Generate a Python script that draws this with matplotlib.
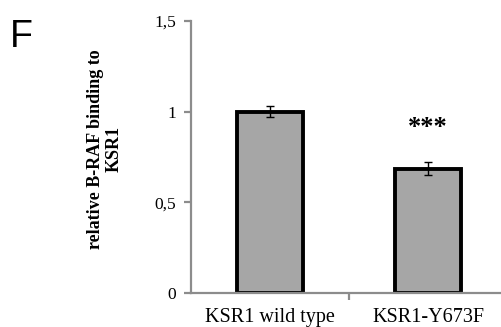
import numpy as np
import matplotlib
matplotlib.use("Agg")
from matplotlib import pyplot as plt

# data
groups = ['KSR1 wild type', 'KSR1-Y673F']
binding = [1.0, 0.685]
binding_err = [0.03, 0.035]
signif = ['', '***']
yticks = [0, 0.5, 1, 1.5]
ytick_labels = ['0', '0,5', '1', '1,5']

W, H = 501, 327
fig = plt.figure(figsize=(W/100, H/100), dpi=100)
# axis spans x 191..507 px, y 21..293 px
ax = fig.add_axes([191/W, (H-293)/H, 316/W, 272/H])

x = np.arange(len(groups))
ax.bar(x, binding, width=0.42, color='#a6a6a6', edgecolor='black', linewidth=2.8, zorder=2)
ax.errorbar(x, binding, yerr=binding_err, fmt='none', ecolor='black', elinewidth=1.0,
            capsize=3, capthick=1.0, zorder=3)
for xi, val, err, s in zip(x, binding, binding_err, signif):
    if s:
        ax.text(xi, 0.91, s, ha='center', va='center', fontsize=19, fontweight='bold',
                family='Liberation Serif')

ax.set_xlim(-0.5, 1.5)
ax.set_ylim(0, 1.5)
ax.set_yticks(yticks)
ax.set_yticklabels(ytick_labels, family='Liberation Serif', fontsize=12.5)
ax.set_xticks([0.5])
ax.set_xticklabels([''])
for xi, g in zip(x, groups):
    ax.text(xi, -0.135, g, ha='center', va='center', fontsize=14.5, family='Liberation Serif')

for side in ['top', 'right']:
    ax.spines[side].set_visible(False)
for side in ['left', 'bottom']:
    ax.spines[side].set_color('#8c8c8c')
    ax.spines[side].set_linewidth(1.6)
ax.tick_params(axis='both', color='#8c8c8c', width=1.6, length=5, direction='out')
ax.tick_params(axis='y', pad=6)

ax.set_ylabel('relative B-RAF binding to\nKSR1', family='Liberation Serif', fontweight='bold',
              fontsize=13, linespacing=1.15)
ax.yaxis.set_label_coords(-0.215, 0.53)

fig.text(10/W, 1 - 37/H, 'F', fontsize=27, family='Liberation Sans', va='center', ha='left')

fig.savefig('out.png', dpi=100)
